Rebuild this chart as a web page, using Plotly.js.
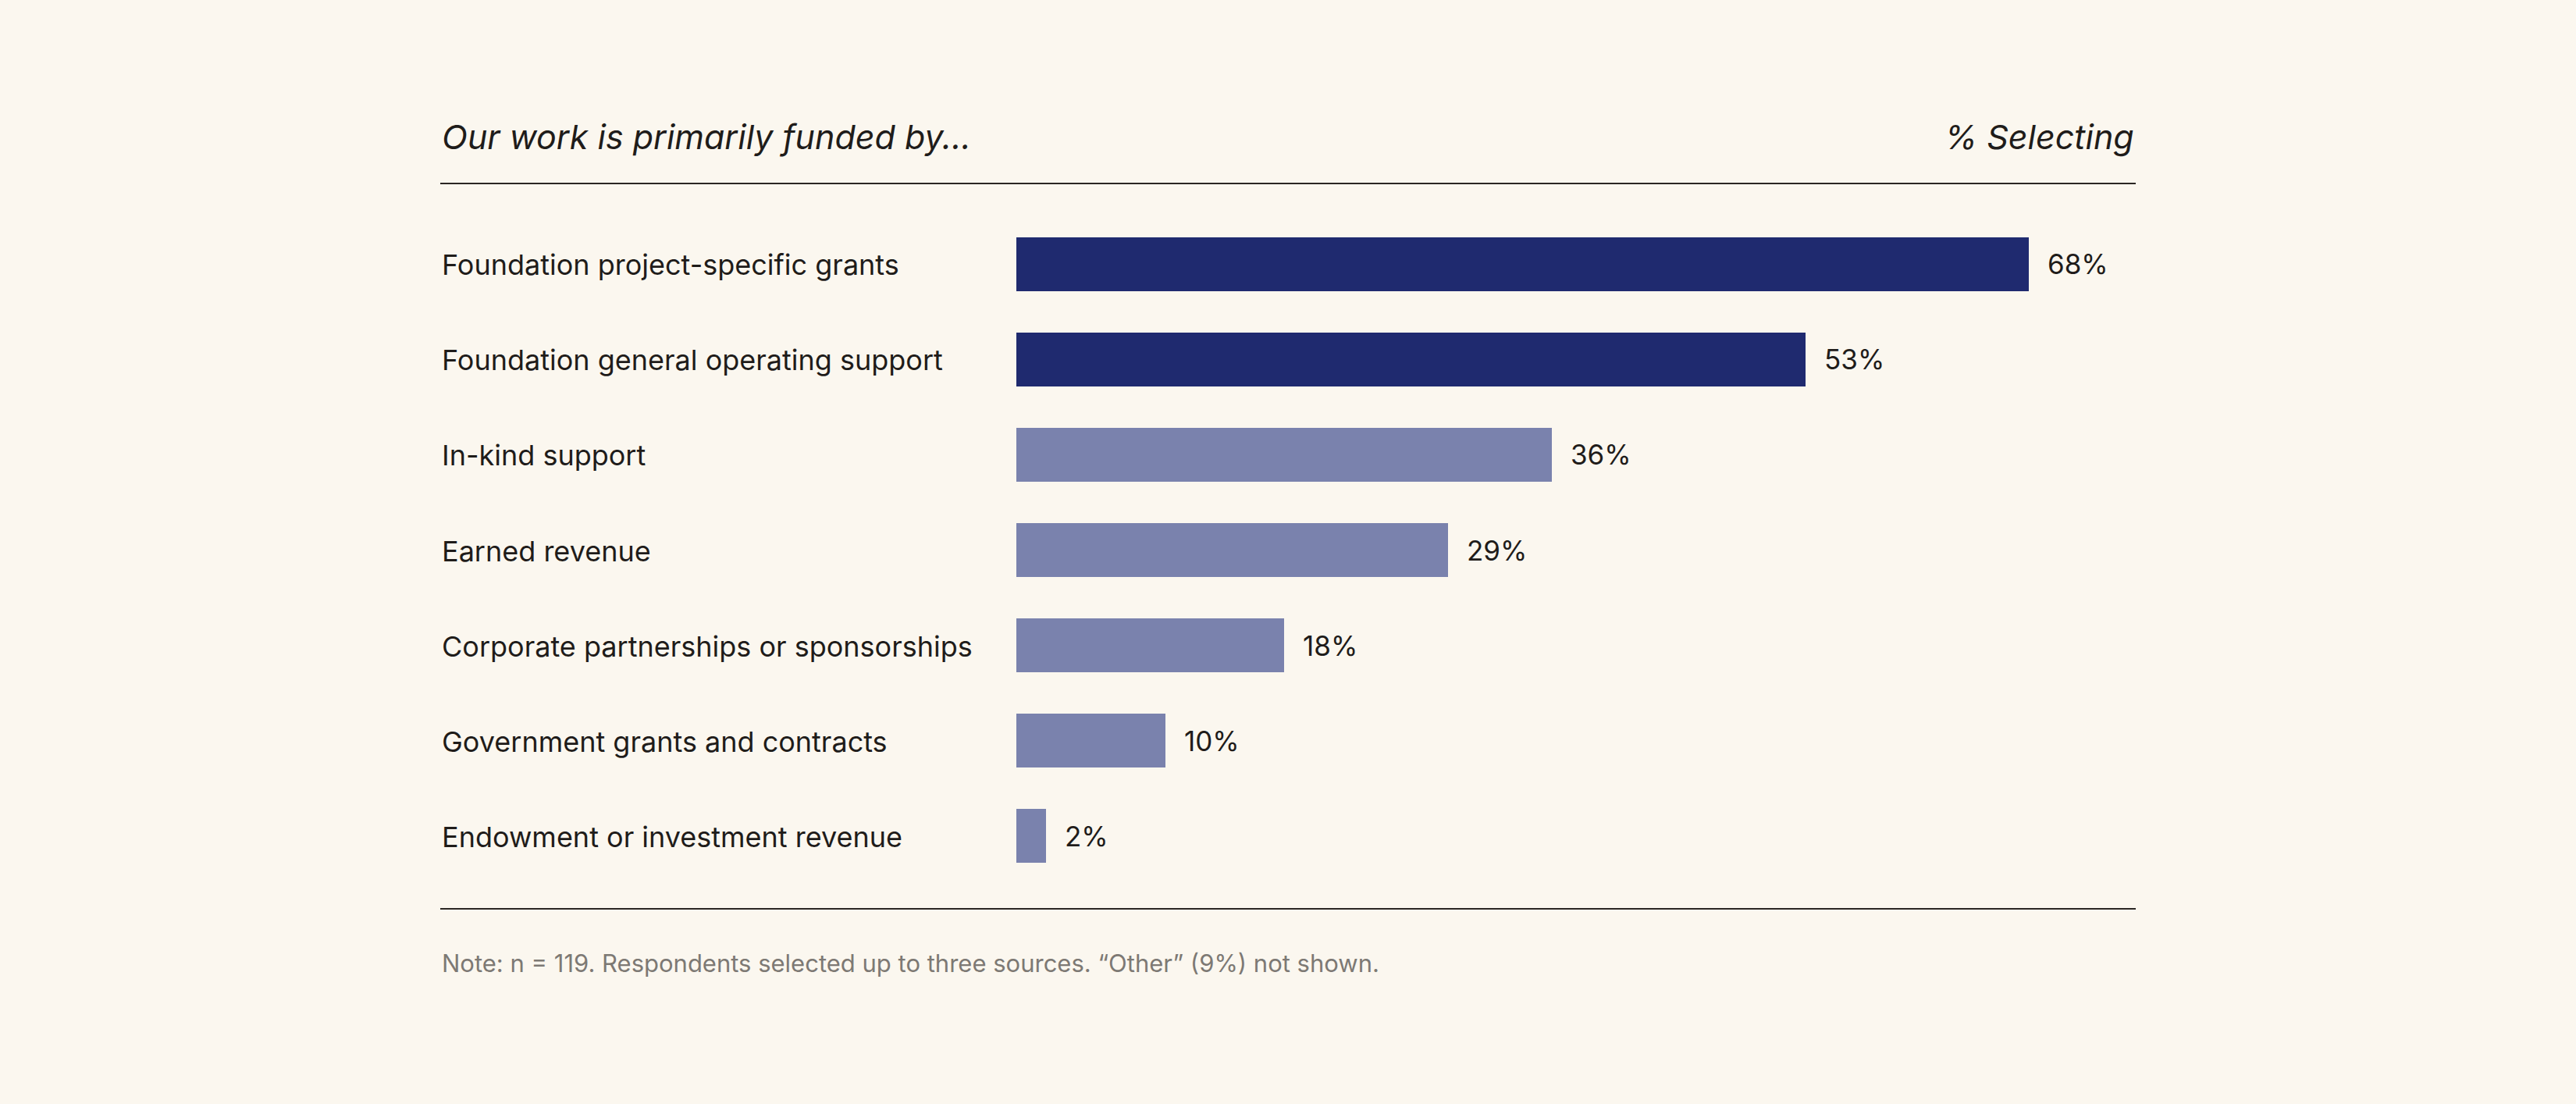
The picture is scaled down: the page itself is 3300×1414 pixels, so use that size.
<!DOCTYPE html>
<html>
<head>
<meta charset="utf-8">
<script src="https://cdn.plot.ly/plotly-3.0.1.min.js"></script>
<style>
  html, body { margin: 0; padding: 0; background: #fbf7ef; }
  #plotly { width: 3300px; height: 1414px; }
</style>
</head>
<body>
<div id="plotly"></div>
<script>
// Funding sources, in order from top to bottom
var categories = [
  'Foundation project-specific grants',
  'Foundation general operating support',
  'In-kind support',
  'Earned revenue',
  'Corporate partnerships or sponsorships',
  'Government grants and contracts',
  'Endowment or investment revenue'
];
var percentSelecting = [68, 53, 36, 29, 18, 10, 2];

var chartTitle = 'Our work is primarily funded by...';
var valueTitle = '% Selecting';
var noteText = 'Note: n = 119. Respondents selected up to three sources. \u201cOther\u201d (9%) not shown.';

var FONT = 'Inter, "Liberation Sans", sans-serif';
var TEXT = '#1f1c1a';
var DARK = '#1f2a6f';
var LIGHT = '#7a82ad';

// the top two sources are drawn dark, the rest light
var barColors = percentSelecting.map(function(v, i) {
  return i < 2 ? DARK : LIGHT;
});

var barTrace = {
  type: 'bar',
  orientation: 'h',
  x: percentSelecting,
  y: categories,
  width: 0.566,
  marker: { color: barColors, line: { width: 0 } },
  hoverinfo: 'skip'
};

// left edge of the label column, in paper units of the plot area
var labelX = (564 - 1302) / 1434;

var annotations = [];

// category labels, left aligned
categories.forEach(function(c) {
  annotations.push({
    xref: 'paper', yref: 'y',
    x: labelX, y: c,
    xanchor: 'left', yanchor: 'middle',
    yshift: -1,
    text: c,
    showarrow: false,
    font: { family: FONT, size: 36, color: TEXT }
  });
});

// value labels next to each bar
categories.forEach(function(c, i) {
  annotations.push({
    xref: 'x', yref: 'y',
    x: percentSelecting[i], y: c,
    xanchor: 'left', yanchor: 'middle',
    xshift: 22,
    text: percentSelecting[i] + '%',
    showarrow: false,
    font: { family: FONT, size: 35, color: TEXT }
  });
});

// header texts
annotations.push({
  xref: 'paper', yref: 'paper',
  x: labelX, y: 1.0646,
  xanchor: 'left', yanchor: 'middle',
  text: '<i>' + chartTitle + '</i>',
  showarrow: false,
  font: { family: FONT, size: 43, color: TEXT }
});
annotations.push({
  xref: 'paper', yref: 'paper',
  x: 1, y: 1.0646,
  xanchor: 'right', yanchor: 'middle',
  text: '<i>' + valueTitle + '</i>',
  showarrow: false,
  font: { family: FONT, size: 43, color: TEXT }
});

// footnote
annotations.push({
  xref: 'paper', yref: 'paper',
  x: labelX, y: -0.0743,
  xanchor: 'left', yanchor: 'middle',
  text: noteText,
  showarrow: false,
  font: { family: FONT, size: 31, color: '#7d7974' }
});

var layout = {
  width: 3300,
  height: 1414,
  paper_bgcolor: '#fbf7ef',
  plot_bgcolor: '#fbf7ef',
  margin: { l: 1302, r: 564, t: 235, b: 250, pad: 0 },
  showlegend: false,
  bargap: 0,
  xaxis: {
    range: [0, 75.2],
    showgrid: false, zeroline: false, showline: false,
    showticklabels: false, ticks: '', fixedrange: true
  },
  yaxis: {
    type: 'category',
    range: [6.766, -0.848],
    showgrid: false, zeroline: false, showline: false,
    showticklabels: false, ticks: '', fixedrange: true
  },
  shapes: [
    { type: 'line', xref: 'paper', yref: 'paper', x0: labelX, x1: 1, y0: 1, y1: 1,
      line: { color: '#2a2623', width: 2 } },
    { type: 'line', xref: 'paper', yref: 'paper', x0: labelX, x1: 1, y0: 0, y1: 0,
      line: { color: '#2a2623', width: 2 } }
  ],
  annotations: annotations
};

Plotly.newPlot('plotly', [barTrace], layout, { displayModeBar: false, staticPlot: true });
</script>
</body>
</html>
